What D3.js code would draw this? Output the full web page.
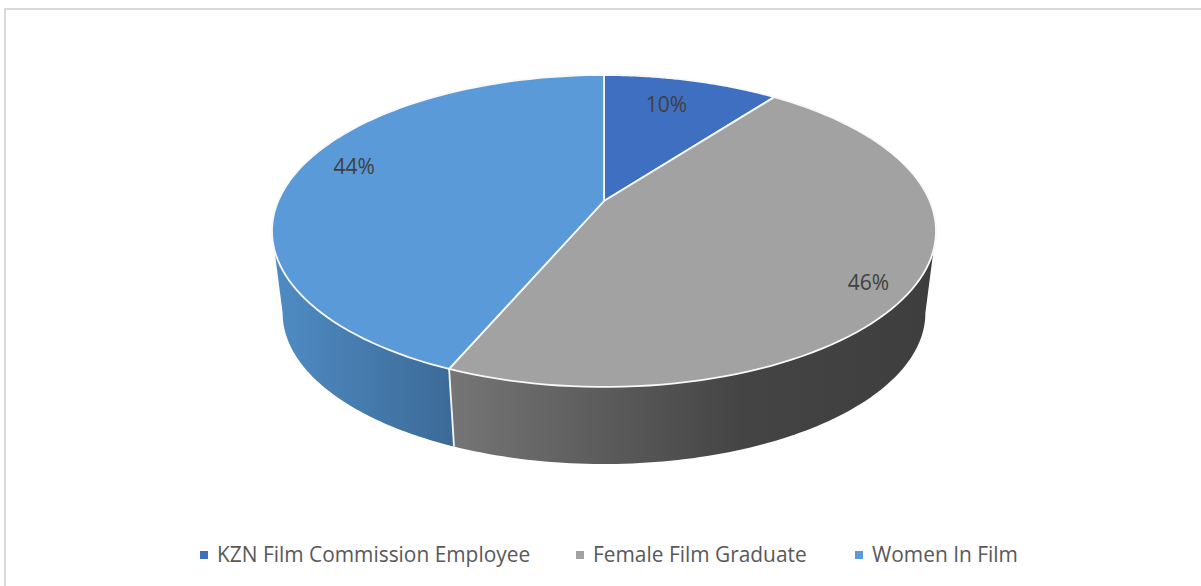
<!DOCTYPE html>
<html>
<head>
<meta charset="utf-8">
<script src="https://cdn.jsdelivr.net/npm/d3@7"></script>
<style>
  html, body { margin: 0; padding: 0; background: #fff; overflow: hidden; }
  text { font-family: "Open Sans", sans-serif; }
</style>
</head>
<body>
<div id="chart"></div>
<script>
const categories = ['KZN Film Commission Employee', 'Female Film Graduate', 'Women In Film']
const shares = [10.3, 46.1, 43.6]
const labels = ['10%', '46%', '44%']
const topColors = ['#3f6fc0', '#a2a2a2', '#5a9ad8']

const width = 1201, height = 586

const svg = d3.select('#chart').append('svg')
  .attr('width', width)
  .attr('height', height)

// chart frame, only top and left show in the crop
svg.append('path')
  .attr('d', `M5,${height} V9 H${width}`)
  .attr('fill', 'none')
  .attr('stroke', '#d9d9d9')
  .attr('stroke-width', 2)

const pie = d3.pie().sort(null).value(d => d)
const arcs = pie(shares)

// tilted disc: unit circle through a perspective, centre lands above the ellipse centre
const cx = 604, apexY = 201
const a = 325.8, b = 150.2, k = 0.1923
const project = (t, r = 1) => {
  const w = 1 + k * r * Math.cos(t)
  return [cx + a * r * Math.sin(t) / w, apexY - b * r * Math.cos(t) / w]
}
// bottom rim is the same curve, a bit smaller and lower
const rimScale = 0.968, rimY = 284
const projectLow = t => {
  const [x, y] = project(t)
  return [cx + (x - cx) * rimScale, rimY + (y - apexY) * rimScale]
}

const sweep = (fn, t0, t1, n = 90) => d3.range(n + 1).map(i => fn(t0 + (t1 - t0) * i / n))
const line = d3.line().curve(d3.curveLinear)

const edgeRight = Math.PI - Math.acos(k)
const edgeLeft = Math.PI + Math.acos(k)

const defs = svg.append('defs')
const rimGrad = (id, x1, x2, stops) => {
  const g = defs.append('linearGradient').attr('id', id)
    .attr('gradientUnits', 'userSpaceOnUse')
    .attr('x1', x1).attr('x2', x2).attr('y1', 0).attr('y2', 0)
  stops.forEach(([o, c]) => g.append('stop').attr('offset', o).attr('stop-color', c))
  return `url(#${id})`
}
const rimFills = [
  null,
  rimGrad('rim-grey', 454, 936, [[0, '#757575'], [0.6, '#444444'], [1, '#3e3e3e']]),
  rimGrad('rim-blue', 272, 454, [[0, '#4f8cc4'], [1, '#3c6a97']])
]

// rim, only the part of each slice on the near side
arcs.forEach((d, i) => {
  const t0 = Math.max(d.startAngle, edgeRight)
  const t1 = Math.min(d.endAngle, edgeLeft)
  if (t1 <= t0) return
  const pts = sweep(project, t0, t1).concat(sweep(projectLow, t1, t0))
  svg.append('path')
    .attr('d', line(pts) + 'Z')
    .attr('fill', rimFills[i])
})

// white seam between the two rim faces
const seam = arcs[1].endAngle
svg.append('path')
  .attr('d', line([project(seam), projectLow(seam)]))
  .attr('stroke', '#f6f6f6')
  .attr('stroke-width', 1.8)

// top face
arcs.forEach((d, i) => {
  const pts = [[cx, apexY]].concat(sweep(project, d.startAngle, d.endAngle))
  svg.append('path')
    .attr('d', line(pts) + 'Z')
    .attr('fill', topColors[i])
    .attr('stroke', '#f8f8f8')
    .attr('stroke-width', 1.8)
    .attr('stroke-linejoin', 'round')
})

// data labels
const labelNudge = [[-10, 3], [20, 16], [-2, -11]]
svg.selectAll('text.pct')
  .data(arcs)
  .enter()
  .append('text')
    .attr('class', 'pct')
    .attr('x', (d, i) => project((d.startAngle + d.endAngle) / 2, 0.8)[0] + labelNudge[i][0])
    .attr('y', (d, i) => project((d.startAngle + d.endAngle) / 2, 0.8)[1] + labelNudge[i][1])
    .attr('dy', '0.35em')
    .attr('text-anchor', 'middle')
    .attr('font-size', 21)
    .attr('fill', '#404040')
    .text((d, i) => labels[i])

// legend
const legendX = [200, 576, 855]
const legend = svg.selectAll('g.legend')
  .data(categories)
  .enter()
  .append('g')
    .attr('class', 'legend')
    .attr('transform', (d, i) => `translate(${legendX[i]},555)`)
legend.append('rect')
  .attr('x', 0).attr('y', -4)
  .attr('width', 8).attr('height', 8)
  .attr('fill', (d, i) => topColors[i])
legend.append('text')
  .attr('x', 17)
  .attr('dy', '0.35em')
  .attr('font-size', 20.9)
  .attr('fill', '#595959')
  .text(d => d)
</script>
</body>
</html>
